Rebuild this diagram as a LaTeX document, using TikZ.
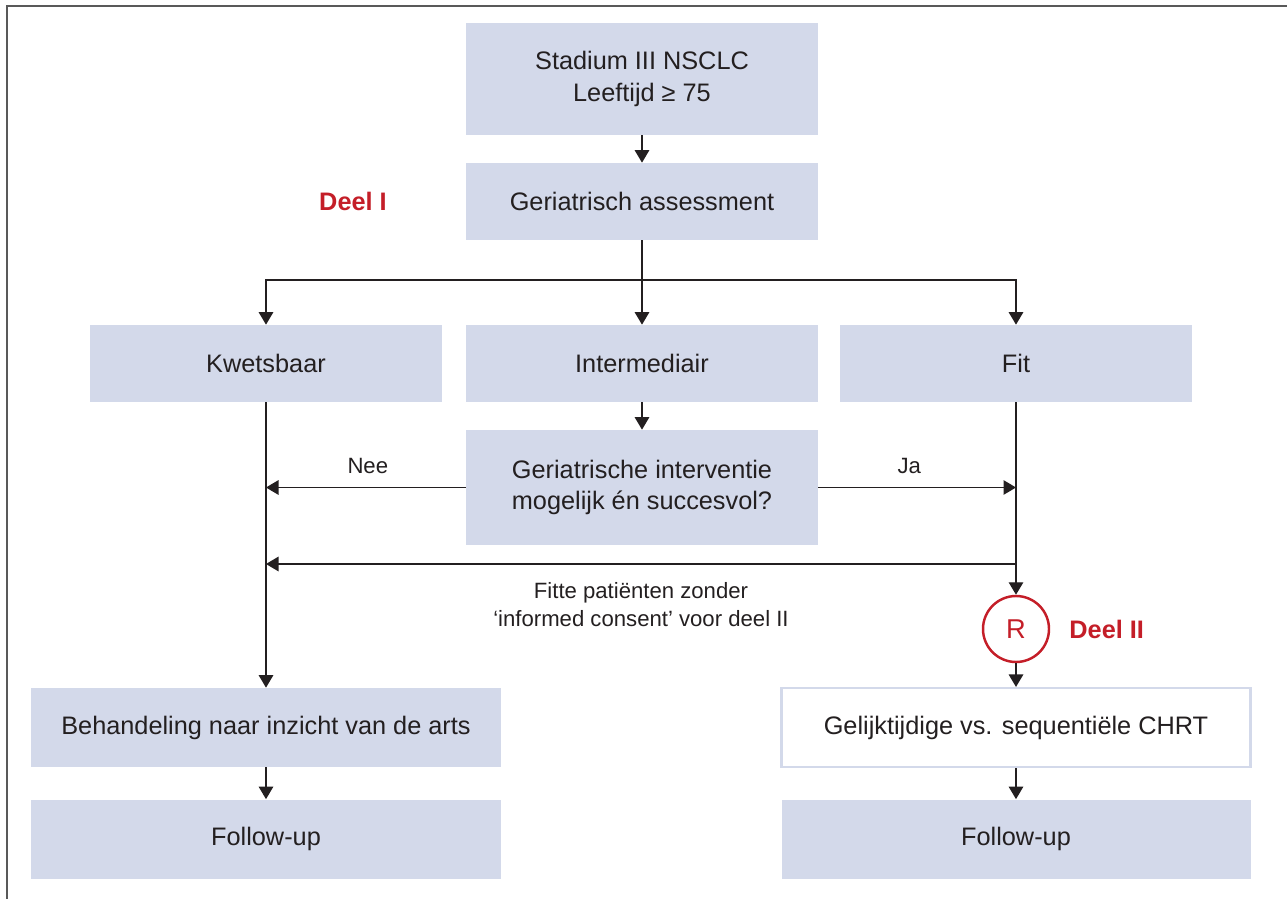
\documentclass[tikz,border=0pt]{standalone}
\usepackage{fontspec}
\setmainfont{Liberation Sans}
\usetikzlibrary{arrows.meta,positioning}
\definecolor{boxblue}{RGB}{211,217,234}
\definecolor{deelred}{RGB}{196,30,40}
\definecolor{txt}{RGB}{35,31,32}
\tikzset{
  box/.style={fill=boxblue, text=txt, align=center, inner sep=0pt,
    minimum width=70.4mm, minimum height=15.4mm,
    font=\fontsize{14.4}{18}\selectfont},
  widebox/.style={box, minimum width=93.8mm, minimum height=15.8mm},
  arr/.style={-{Triangle[length=2.5mm,width=2.9mm]}, line width=0.8pt, color=txt},
  lbl/.style={text=txt, font=\fontsize{12.6}{16.4}\selectfont, align=center},
  deel/.style={text=deelred, font=\fontsize{14.4}{18}\selectfont\bfseries}
}
\begin{document}
\begin{tikzpicture}[x=0.2mm,y=-0.2mm]
    \useasboundingbox (0,0) rectangle (1287,899);
    \draw[line width=1.1pt, color=black!65] (7,899) -- (7,6) -- (1287,6);
    % deel I
    \node[box, minimum height=22.4mm] (stad) at (642,79) {Stadium III NSCLC\\Leeftijd ≥ 75};
    \node[box] (assess) at (642,201.5) {Geriatrisch assessment};
    \node[deel] (deel1) at (353,201) {Deel I};
    \node[box] (kwets) at (266,363.5) {Kwetsbaar};
    \node[box] (inter) at (642,363.5) {Intermediair};
    \node[box] (fit) at (1016,363.5) {Fit};
    \node[box, minimum height=23mm] (gint) at (642,487.5) {Geriatrische interventie\\mogelijk én succesvol?};
    % deel II
    \node[circle, draw=deelred, line width=1.4pt, minimum size=13.2mm, inner sep=0pt,
      text=deelred, font=\fontsize{15.5}{18}\selectfont] (rnd) at (1016,629) {R};
    \node[deel, right=2.6mm of rnd] (deel2) {Deel II};
    \node[widebox] (behand) at (266,727.5) {Behandeling naar inzicht van de arts};
    \node[widebox, fill=white, draw=boxblue, line width=1.2pt] (chrt) at (1016,727.5) {Gelijktijdige vs. sequentiële CHRT};
    \node[widebox] (fu1) at (266,839) {Follow-up};
    \node[widebox] (fu2) at (1016,839) {Follow-up};
    \coordinate (split) at (642,280);
    \coordinate (back) at (1016,564);
    % connectors
    \draw[arr] (stad) -- (assess);
    \draw[line width=0.8pt, color=txt] (assess) -- (split);
    \draw[arr] (split) -| (kwets);
    \draw[arr] (split) -- (inter);
    \draw[arr] (split) -| (fit);
    \draw[arr] (inter) -- (gint);
    \draw[arr] (kwets) -- (behand);
    \draw[arr] (fit) -- (rnd);
    \draw[arr] (gint.west) -- (gint.west -| kwets) node[lbl, pos=0.49, above=1.5mm] {Nee};
    \draw[arr] (gint.east) -- (gint.east -| fit) node[lbl, pos=0.46, above=1.5mm] {Ja};
    \draw[arr] (back) -- (back -| kwets) node[lbl, midway, below=2.3mm] {Fitte patiënten zonder\\‘informed consent’ voor deel II};
    \draw[arr] (rnd) -- (chrt);
    \draw[arr] (behand) -- (fu1);
    \draw[arr] (chrt) -- (fu2);
\end{tikzpicture}
\end{document}
